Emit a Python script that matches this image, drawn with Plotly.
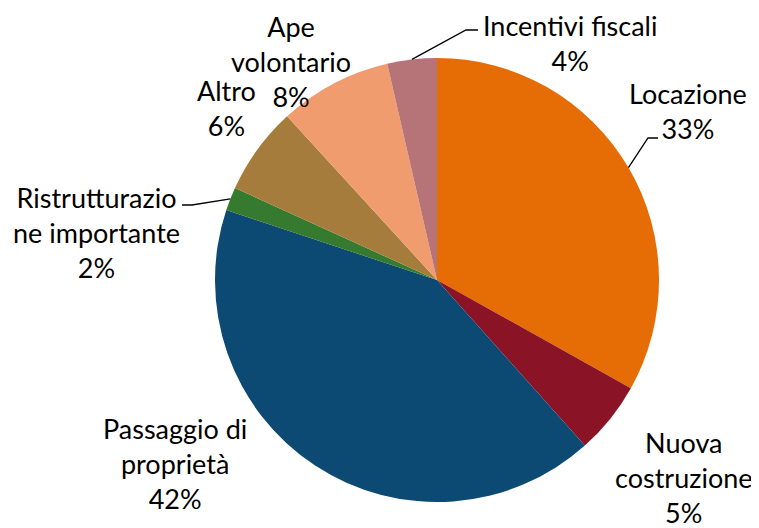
import math
import plotly.graph_objects as go

# ---- data ----
categories = ["Locazione", "Nuova costruzione", "Passaggio di proprietà",
              "Ristrutturazione importante", "Altro", "Ape volontario",
              "Incentivi fiscali"]
values = [33.1, 5.3, 41.7, 1.7, 6.4, 8.2, 3.6]
display_names = ["Locazione", "Nuova<br>costruzione", "Passaggio di<br>proprietà",
                 "Ristrutturazio<br>ne importante", "Altro", "Ape<br>volontario",
                 "Incentivi fiscali"]
colors = ["#E66C06", "#8A1426", "#0D4A73", "#357A2E", "#A67C3C", "#F09C6E", "#B67478"]

# ---- layout constants (screen pixels; page body has an 8px margin) ----
OFF = 8
W, H = 759 - OFF, 528 - OFF
CX, CY, R = 437, 280, 222
label_pos = [(688, 111), (684, 477), (175, 463), (96, 232), (226, 108), (291, 62), (570, 43)]
leaders = {0: [(648, 138), (658, 138)],
           3: [(192, 205), (182, 205)],
           6: [(466, 30), (478, 30)]}

def px(x, y):
    return (x - OFF) / W, 1 - (y - OFF) / H

total = sum(values)
x0, y1 = px(CX - R, CY - R)
x1, y0 = px(CX + R, CY + R)
fig = go.Figure(go.Pie(
    labels=categories, values=values, sort=False, direction="clockwise",
    rotation=0, marker=dict(colors=colors, line=dict(width=0)),
    textinfo="none", hoverinfo="label+percent", showlegend=False,
    domain=dict(x=[x0, x1], y=[y0, y1]),
))

annotations = []
for i, (name, v) in enumerate(zip(display_names, values)):
    x, y = px(*label_pos[i])
    annotations.append(dict(
        x=x, y=y, xref="paper", yref="paper", xanchor="center", yanchor="middle",
        text=f"{name}<br>{round(v / total * 100)}%", showarrow=False, align="center",
        font=dict(family="Lato, Carlito, sans-serif", size=27, color="#000000")))

shapes = []
cum = 0
for i, v in enumerate(values):
    mid = (cum + v / 2) / total * 2 * math.pi
    cum += v
    if i in leaders:
        sx, sy = CX + R * math.sin(mid), CY - R * math.cos(mid)
        pts = [(sx, sy)] + leaders[i]
        path = "M " + " L ".join(f"{px(a, b)[0]},{px(a, b)[1]}" for a, b in pts)
        shapes.append(dict(type="path", xref="paper", yref="paper", path=path,
                           line=dict(color="#000000", width=1.3)))

fig.update_layout(width=W, height=H, margin=dict(l=0, r=0, t=0, b=0),
                  paper_bgcolor="white", plot_bgcolor="white",
                  annotations=annotations, shapes=shapes)
fig.write_html("out.html")
